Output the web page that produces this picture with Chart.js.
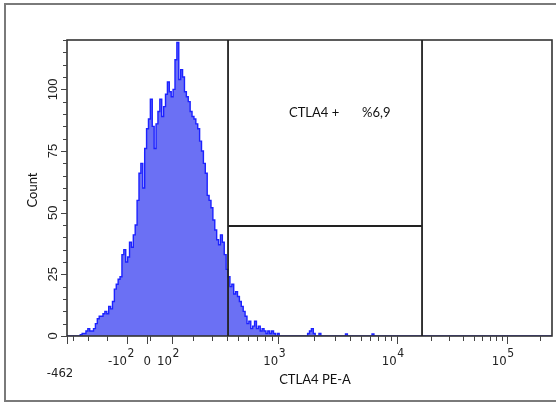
<!DOCTYPE html>
<html>
<head>
<meta charset="utf-8">
<script src="https://cdn.jsdelivr.net/npm/chart.js@4.4.0/dist/chart.umd.min.js"></script>
<style>
  html, body { margin: 0; padding: 0; background: #fff; }
  #wrap { width: 556px; height: 403px; position: relative; }
</style>
</head>
<body>
<div id="wrap"><canvas id="c" width="556" height="403"></canvas></div>
<script>
// ---- Data (display channels 0..256 on a logicle-like axis) ----
const channelCount = 256;
const firstChannel = 8;
const counts = [0.5,1,1,2,3,2,2,3,5,7,8,8,9,10,9,12,11,14,19,21,23,24,33,35,30,32,38,36,41,45,55,66,70,60,76,84,88,96,85,76,86,91,96,89,93,98,103,99,97,100,112,119,104,108,105,99,97,95,91,89,88,86,84,79,75,70,66,57,55,52,47,43,39,37,41,38,33,27,24,20,21,17,18,16,14,12,10,8,5,6,3,4,6,3,4,2,3,2,1,2,1,2,1,0,1,0];
const tailChannels = [128,129,130,131,134,148,162];
const tailCounts   = [1,2,3,1,1,0.8,0.8];

// axis ticks (channel positions) and labels
const xMajorTicks = [0, 31.7, 42.4, 55.4, 111.5, 174.0, 232.1];
const xMajorBase  = ["", "-10", "0", "10", "10", "10", "10"];
const xMajorExp   = ["", "2", "", "2", "3", "4", "5"];
const xMinorTicks = [3.3, 11.2, 21.0, 43.8, 66.7, 76.4, 84.3, 90.3, 95.5, 100.1, 104.5, 108.1,
                     130.4, 141.4, 149.2, 155.2, 160.1, 164.4, 168.0, 171.2,
                     192.0, 201.7, 209.0, 214.6, 219.2, 223.1, 226.4, 229.4, 249.7];
const xMinLabel = "-462";
const yMajorTicks = [0, 25, 50, 75, 100];
const yMinorTicks = [5,10,15,20,30,35,40,45,55,60,65,70,80,85,90,95,105,110,115,120];

// gate
const gateX = [85, 187.4];
const gateY = 44.6;
const gateLabel = "CTLA4 +";
const gateValue = "%6,9";
const xTitle = "CTLA4 PE-A";
const yTitle = "Count";

// build histogram
const hist = new Array(channelCount + 1).fill(0);
counts.forEach((c, i) => { hist[firstChannel + i] = c; });
tailChannels.forEach((ch, i) => { hist[ch] = tailCounts[i]; });
const points = hist.map((c, ch) => ({ x: ch, y: c }));

const numFont = '"Liberation Sans Narrow", "DejaVu Sans Condensed", "Liberation Sans", sans-serif';
const txtFont = 'Lato, "Open Sans", "Noto Sans", sans-serif';

const overlay = {
  id: 'overlay',
  beforeDraw(chart) {
    const ctx = chart.ctx;
    ctx.save();
    ctx.fillStyle = '#fff';
    ctx.fillRect(0, 0, chart.width, chart.height);
    ctx.restore();
  },
  afterDraw(chart) {
    const { ctx, chartArea: a, scales: { x, y } } = chart;
    ctx.save();
    // outer frame
    ctx.strokeStyle = '#7a7a7a';
    ctx.lineWidth = 2;
    ctx.beginPath();
    ctx.moveTo(556, 4); ctx.lineTo(5, 4); ctx.lineTo(5, 401); ctx.lineTo(556, 401);
    ctx.stroke();

    // plot box
    ctx.strokeStyle = '#333';
    ctx.lineWidth = 1.6;
    ctx.strokeRect(a.left, a.top, a.right - a.left, a.bottom - a.top);

    // gates
    ctx.strokeStyle = '#222';
    ctx.lineWidth = 1.8;
    const gx1 = x.getPixelForValue(gateX[0]);
    const gx2 = x.getPixelForValue(gateX[1]);
    const gy = y.getPixelForValue(gateY);
    ctx.beginPath();
    ctx.moveTo(gx1, a.top); ctx.lineTo(gx1, a.bottom);
    ctx.moveTo(gx2, a.top); ctx.lineTo(gx2, a.bottom);
    ctx.moveTo(gx1, gy); ctx.lineTo(gx2, gy);
    ctx.stroke();

    // x ticks
    ctx.strokeStyle = '#444';
    ctx.lineWidth = 1;
    ctx.beginPath();
    xMajorTicks.forEach(v => {
      const px = Math.round(x.getPixelForValue(v)) + 0.5;
      ctx.moveTo(px, a.bottom); ctx.lineTo(px, a.bottom + 8);
    });
    xMinorTicks.forEach(v => {
      const px = Math.round(x.getPixelForValue(v)) + 0.5;
      ctx.moveTo(px, a.bottom); ctx.lineTo(px, a.bottom + 5);
    });
    // y ticks
    yMajorTicks.forEach(v => {
      const py = Math.round(y.getPixelForValue(v)) + 0.5;
      ctx.moveTo(a.left, py); ctx.lineTo(a.left - 6, py);
    });
    yMinorTicks.forEach(v => {
      const py = Math.round(y.getPixelForValue(v)) + 0.5;
      ctx.moveTo(a.left, py); ctx.lineTo(a.left - 4, py);
    });
    ctx.stroke();

    // x labels
    ctx.fillStyle = '#222';
    xMajorTicks.forEach((v, i) => {
      const base = xMajorBase[i];
      if (!base) return;
      const px = x.getPixelForValue(v);
      const exp = xMajorExp[i];
      ctx.font = '13px ' + numFont;
      ctx.textBaseline = 'alphabetic';
      if (exp) {
        ctx.textAlign = 'right';
        ctx.fillText(base, px, a.bottom + 29);
        ctx.font = '12px ' + numFont;
        ctx.textAlign = 'left';
        ctx.fillText(exp, px + 0.5, a.bottom + 21);
      } else {
        ctx.textAlign = 'center';
        ctx.fillText(base, px, a.bottom + 29);
      }
    });
    ctx.font = '13px ' + numFont;
    ctx.textAlign = 'center';
    ctx.fillText(xMinLabel, x.getPixelForValue(0) - 7, a.bottom + 41);

    // y labels (rotated)
    yMajorTicks.forEach(v => {
      const py = y.getPixelForValue(v);
      ctx.save();
      ctx.translate(a.left - 10, py);
      ctx.rotate(-Math.PI / 2);
      ctx.font = '13px "Liberation Sans", sans-serif';
      ctx.textAlign = 'center';
      ctx.textBaseline = 'alphabetic';
      ctx.fillText(String(v), 0, 0);
      ctx.restore();
    });

    // titles
    ctx.fillStyle = '#111';
    ctx.font = '13px ' + txtFont;
    ctx.textAlign = 'center';
    ctx.textBaseline = 'middle';
    ctx.fillText(xTitle, 315, 380);
    ctx.save();
    ctx.translate(33, 190);
    ctx.rotate(-Math.PI / 2);
    ctx.fillText(yTitle, 0, 0);
    ctx.restore();

    // gate annotation
    ctx.textAlign = 'left';
    ctx.fillText(gateLabel, 289, 113);
    ctx.fillText(gateValue, 362, 113);
    ctx.restore();
  }
};

new Chart(document.getElementById('c'), {
  type: 'line',
  data: {
    datasets: [{
      data: points,
      stepped: 'after',
      borderColor: '#1c22ff',
      borderWidth: 1.4,
      backgroundColor: '#6b70f4',
      fill: 'origin',
      pointRadius: 0,
      tension: 0
    }]
  },
  options: {
    responsive: false,
    animation: false,
    devicePixelRatio: 1,
    layout: { padding: { left: 67, top: 40, right: 4, bottom: 67 } },
    plugins: { legend: { display: false }, tooltip: { enabled: false } },
    scales: {
      x: { type: 'linear', min: 0, max: channelCount, display: false },
      y: { type: 'linear', min: 0, max: 120, display: false }
    }
  },
  plugins: [overlay]
});
</script>
</body>
</html>
